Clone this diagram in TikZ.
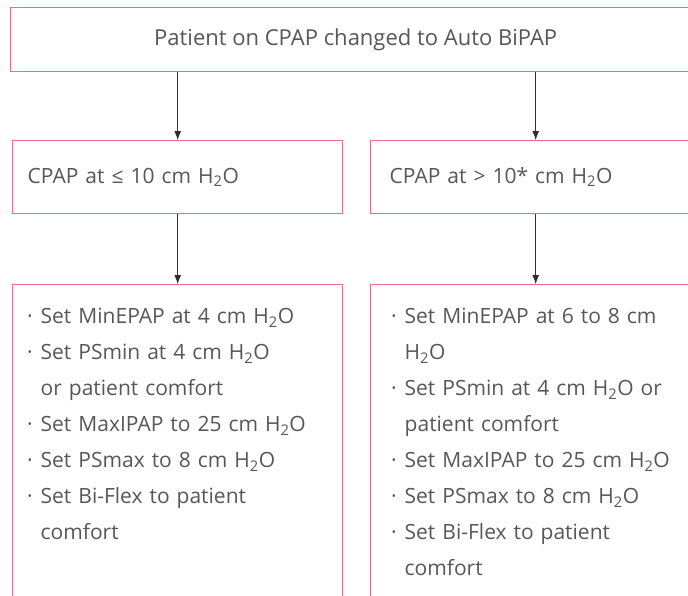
\documentclass[tikz,border=0pt]{standalone}
\usepackage{fontspec}
\setmainfont{Open Sans}
\usetikzlibrary{arrows.meta}
\definecolor{boxpink}{HTML}{EC6C8A}
\definecolor{txtgray}{HTML}{575757}
\definecolor{linegray}{HTML}{2E2E2E}
\newcommand{\bul}{\leavevmode\llap{\textperiodcentered\hspace{8pt}}}
\newcommand{\water}{H\textsubscript{2}O}
\begin{document}
\begin{tikzpicture}[x=1pt,y=-1pt,
  box/.style={draw=boxpink, line width=1.4pt, inner sep=0pt, anchor=north west,
    text=txtgray, font=\fontsize{21}{36}\selectfont},
  midbox/.style={box, minimum width=330pt, minimum height=73pt, text width=330pt, align=left},
  listbox/.style={box, minimum width=330pt, text width=330pt, align=left, text depth=330pt},
  flow/.style={draw=linegray, line width=0.9pt, -{Latex[length=9pt,width=7pt]}}]
\useasboundingbox (0,0) rectangle (688,595);
\clip (0,0) rectangle (688,595);

% header
\node[box, minimum width=690pt, minimum height=64pt, align=center,
      font=\fontsize{22}{30}\selectfont] (top) at (10,7)
  {Patient on CPAP changed to Auto BiPAP};

% pressure branches
\node[midbox] (ml) at (12,140) {\leftskip=15pt CPAP at ≤ 10 cm \water\par};
\node[midbox] (mr) at (370,140) {\leftskip=19pt CPAP at > 10* cm \water\par};

% settings
\node[listbox] (bl) at (12,284) {\leftskip=28pt
  \rule{0pt}{39pt}\bul Set MinEPAP at 4 cm \water\\
  \bul Set PSmin at 4 cm \water\\
  or patient comfort\\
  \bul Set MaxIPAP to 25 cm \water\\
  \bul Set PSmax to 8 cm \water\\
  \bul Set Bi-Flex to patient\\
  comfort\par};
\node[listbox] (br) at (370,284) {\leftskip=34pt
  \rule{0pt}{39pt}\bul Set MinEPAP at 6 to 8 cm\\
  \water\\
  \bul Set PSmin at 4 cm \water{} or\\
  patient comfort\\
  \bul Set MaxIPAP to 25 cm \water\\
  \bul Set PSmax to 8 cm \water\\
  \bul Set Bi-Flex to patient\\
  comfort\par};

% connectors
\draw[flow] (ml.north |- top.south) -- (ml.north);
\draw[flow] (mr.north |- top.south) -- (mr.north);
\draw[flow] (ml.south) -- (bl.north);
\draw[flow] (mr.south) -- (br.north);
\end{tikzpicture}
\end{document}
